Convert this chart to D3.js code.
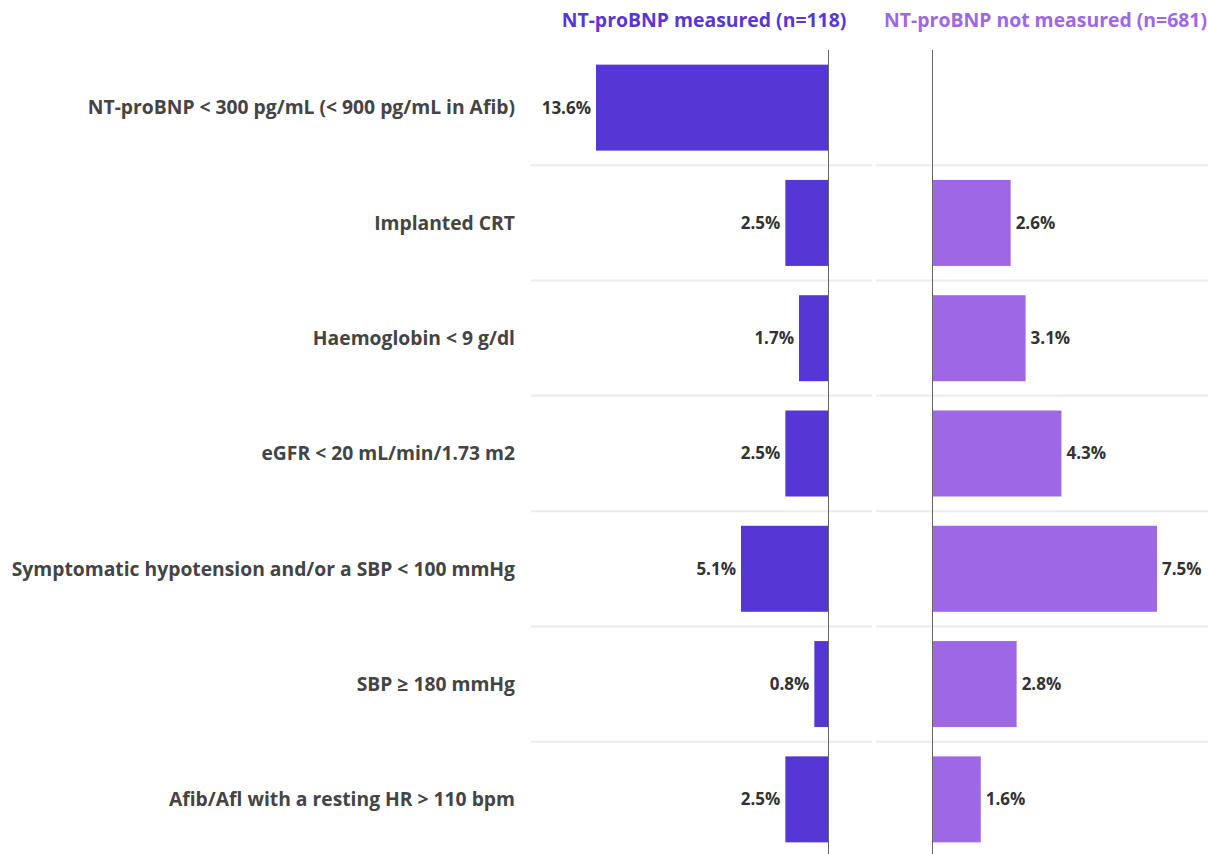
<!DOCTYPE html>
<html>
<head>
<meta charset="utf-8">
<script src="https://cdn.jsdelivr.net/npm/d3@7"></script>
<style>
  html, body { margin: 0; padding: 0; background: #fff; }
  svg { display: block; }
  text { font-family: "Open Sans", "Noto Sans", sans-serif; font-weight: 700; }
</style>
</head>
<body>
<svg id="chart" width="1208" height="854"></svg>
<script>
const categories = [
  "NT-proBNP < 300 pg/mL (< 900 pg/mL in Afib)",
  "Implanted CRT",
  "Haemoglobin < 9 g/dl",
  "eGFR < 20 mL/min/1.73 m2",
  "Symptomatic hypotension and/or a SBP < 100 mmHg",
  "SBP \u2265 180 mmHg",
  "Afib/Afl with a resting HR > 110 bpm"
];
const measured = [13.6, 2.5, 1.7, 2.5, 5.1, 0.8, 2.5];
const notMeasured = [null, 2.6, 3.1, 4.3, 7.5, 2.8, 1.6];
const seriesTitles = ["NT-proBNP measured (n=118)", "NT-proBNP not measured (n=681)"];

const W = 1208, H = 854;
const colL = "#5637d6", colR = "#9d67e5";
const svg = d3.select("#chart");

const y = d3.scaleBand().domain(categories).range([50, 857]).paddingInner(0.254).paddingOuter(0.127);
const xL = d3.scaleLinear().domain([0, d3.max(measured)]).range([828, 596]);
const xR = d3.scaleLinear().domain([0, d3.max(notMeasured)]).range([933, 1157]);
const fmt = v => v.toFixed(1) + "%";

// gridlines between rows
const step = y.step();
const bounds = categories.slice(1).map(c => y(c) - (step - y.bandwidth()) / 2);
svg.append("g").selectAll("line.gl").data(bounds).join("line")
  .attr("x1", 531).attr("x2", 872).attr("y1", d => d).attr("y2", d => d)
  .attr("stroke", "#ececec").attr("stroke-width", 2);
svg.append("g").selectAll("line.gr").data(bounds).join("line")
  .attr("x1", 876).attr("x2", W).attr("y1", d => d).attr("y2", d => d)
  .attr("stroke", "#ececec").attr("stroke-width", 2);

// bars left
svg.append("g").selectAll("rect").data(measured).join("rect")
  .attr("x", d => xL(d)).attr("width", d => xL(0) - xL(d))
  .attr("y", (d, i) => y(categories[i])).attr("height", y.bandwidth())
  .attr("fill", colL);
// bars right
const rd = notMeasured.map((v, i) => ({v, c: categories[i]})).filter(d => d.v != null);
svg.append("g").selectAll("rect").data(rd).join("rect")
  .attr("x", xR(0)).attr("width", d => xR(d.v) - xR(0))
  .attr("y", d => y(d.c)).attr("height", y.bandwidth())
  .attr("fill", colR);

// zero lines
svg.append("line").attr("x1", xL(0) + 0.5).attr("x2", xL(0) + 0.5).attr("y1", 50).attr("y2", H)
  .attr("stroke", "#666").attr("stroke-width", 1);
svg.append("line").attr("x1", xR(0) - 0.5).attr("x2", xR(0) - 0.5).attr("y1", 50).attr("y2", H)
  .attr("stroke", "#666").attr("stroke-width", 1);

// value labels
svg.append("g").selectAll("text").data(measured).join("text")
  .attr("x", d => xL(d) - 5).attr("y", (d, i) => y(categories[i]) + y.bandwidth() / 2)
  .attr("dy", "0.35em").attr("text-anchor", "end")
  .attr("font-size", 17).attr("fill", "#333").text(fmt);
svg.append("g").selectAll("text").data(rd).join("text")
  .attr("x", d => xR(d.v) + 5).attr("y", d => y(d.c) + y.bandwidth() / 2)
  .attr("dy", "0.35em").attr("text-anchor", "start")
  .attr("font-size", 17).attr("fill", "#333").text(d => fmt(d.v));

// category labels
svg.append("g").selectAll("text").data(categories).join("text")
  .attr("x", 515).attr("y", d => y(d) + y.bandwidth() / 2)
  .attr("dy", "0.35em").attr("text-anchor", "end")
  .attr("font-size", 19.3).attr("fill", "#444").text(d => d);

// headers
svg.append("text").attr("x", 704).attr("y", 27).attr("text-anchor", "middle")
  .attr("font-size", 19.4).attr("fill", colL).text(seriesTitles[0]);
svg.append("text").attr("x", 1207).attr("y", 27).attr("text-anchor", "end")
  .attr("font-size", 19.4).attr("fill", colR).text(seriesTitles[1]);
</script>
</body>
</html>
